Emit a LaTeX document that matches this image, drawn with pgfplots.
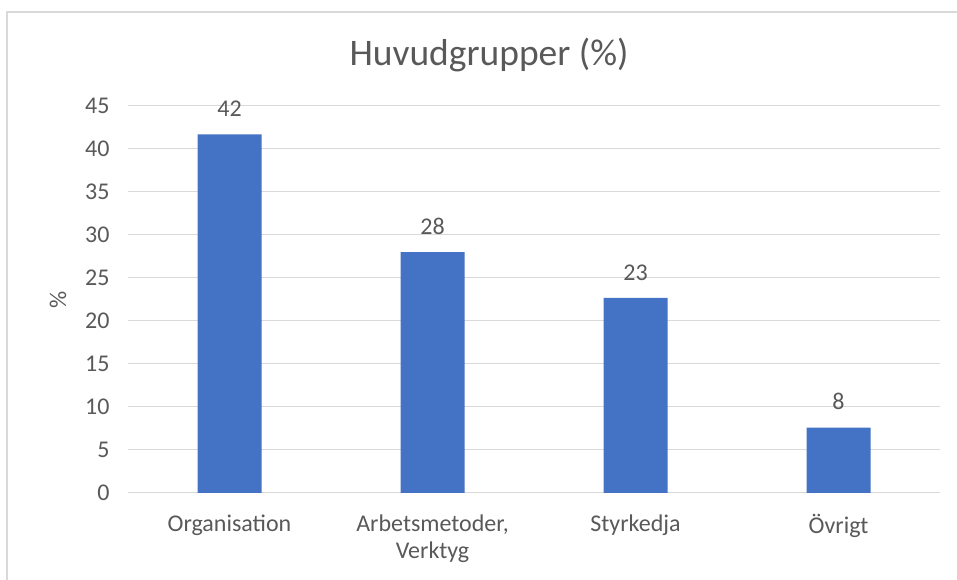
\documentclass[border=0pt]{standalone}
\usepackage{pgfplots}
\pgfplotsset{compat=1.18}
\usepackage{fontspec}
\setmainfont{Carlito}
\definecolor{barblue}{HTML}{4472C4}
\definecolor{gridgray}{HTML}{D9D9D9}
\definecolor{txtgray}{HTML}{595959}
\begin{document}
\begin{tikzpicture}[x=1pt,y=1pt]
\useasboundingbox (0,0) rectangle (957,580);
\draw[gridgray, line width=1.5pt] (7,0) -- (7,568) -- (957,568);
\node[txtgray, font=\fontsize{37.5}{42}\selectfont] at (489,525) {Huvudgrupper (\%)};
\begin{axis}[
  at={(128pt,87pt)}, anchor=south west,
  scale only axis, width=812pt, height=387pt,
  xmin=-0.5, xmax=3.5, ymin=0, ymax=45,
  ytick={0,5,...,45},
  xtick={0,1,2,3},
  xticklabels={Organisation, {Arbetsmetoder,\\Verktyg}, Styrkedja, Övrigt},
  ymajorgrids, grid style={gridgray, line width=1pt},
  axis line style={draw=none},
  major tick length=0pt,
  clip=false,
  /pgf/number format/assume math mode=true,
  tick label style={txtgray, font=\fontsize{24}{27}\selectfont},
  y tick label style={xshift=-15pt},
  x tick label style={align=center, yshift=-18pt},
  ylabel={\%},
  ylabel style={at={(axis description cs:0,0.5)}, anchor=center, yshift=70pt, txtgray, font=\fontsize{24}{27}\selectfont},
]
\addplot[ybar, bar width=64pt, fill=barblue, draw=none,
  nodes near coords,
  every node near coord/.append style={txtgray, font=\fontsize{24}{27}\selectfont, yshift=14pt, /pgf/number format/fixed, /pgf/number format/precision=0}]
  coordinates {(0,41.7) (1,28.0) (2,22.7) (3,7.6)};
\end{axis}
\end{tikzpicture}
\end{document}
